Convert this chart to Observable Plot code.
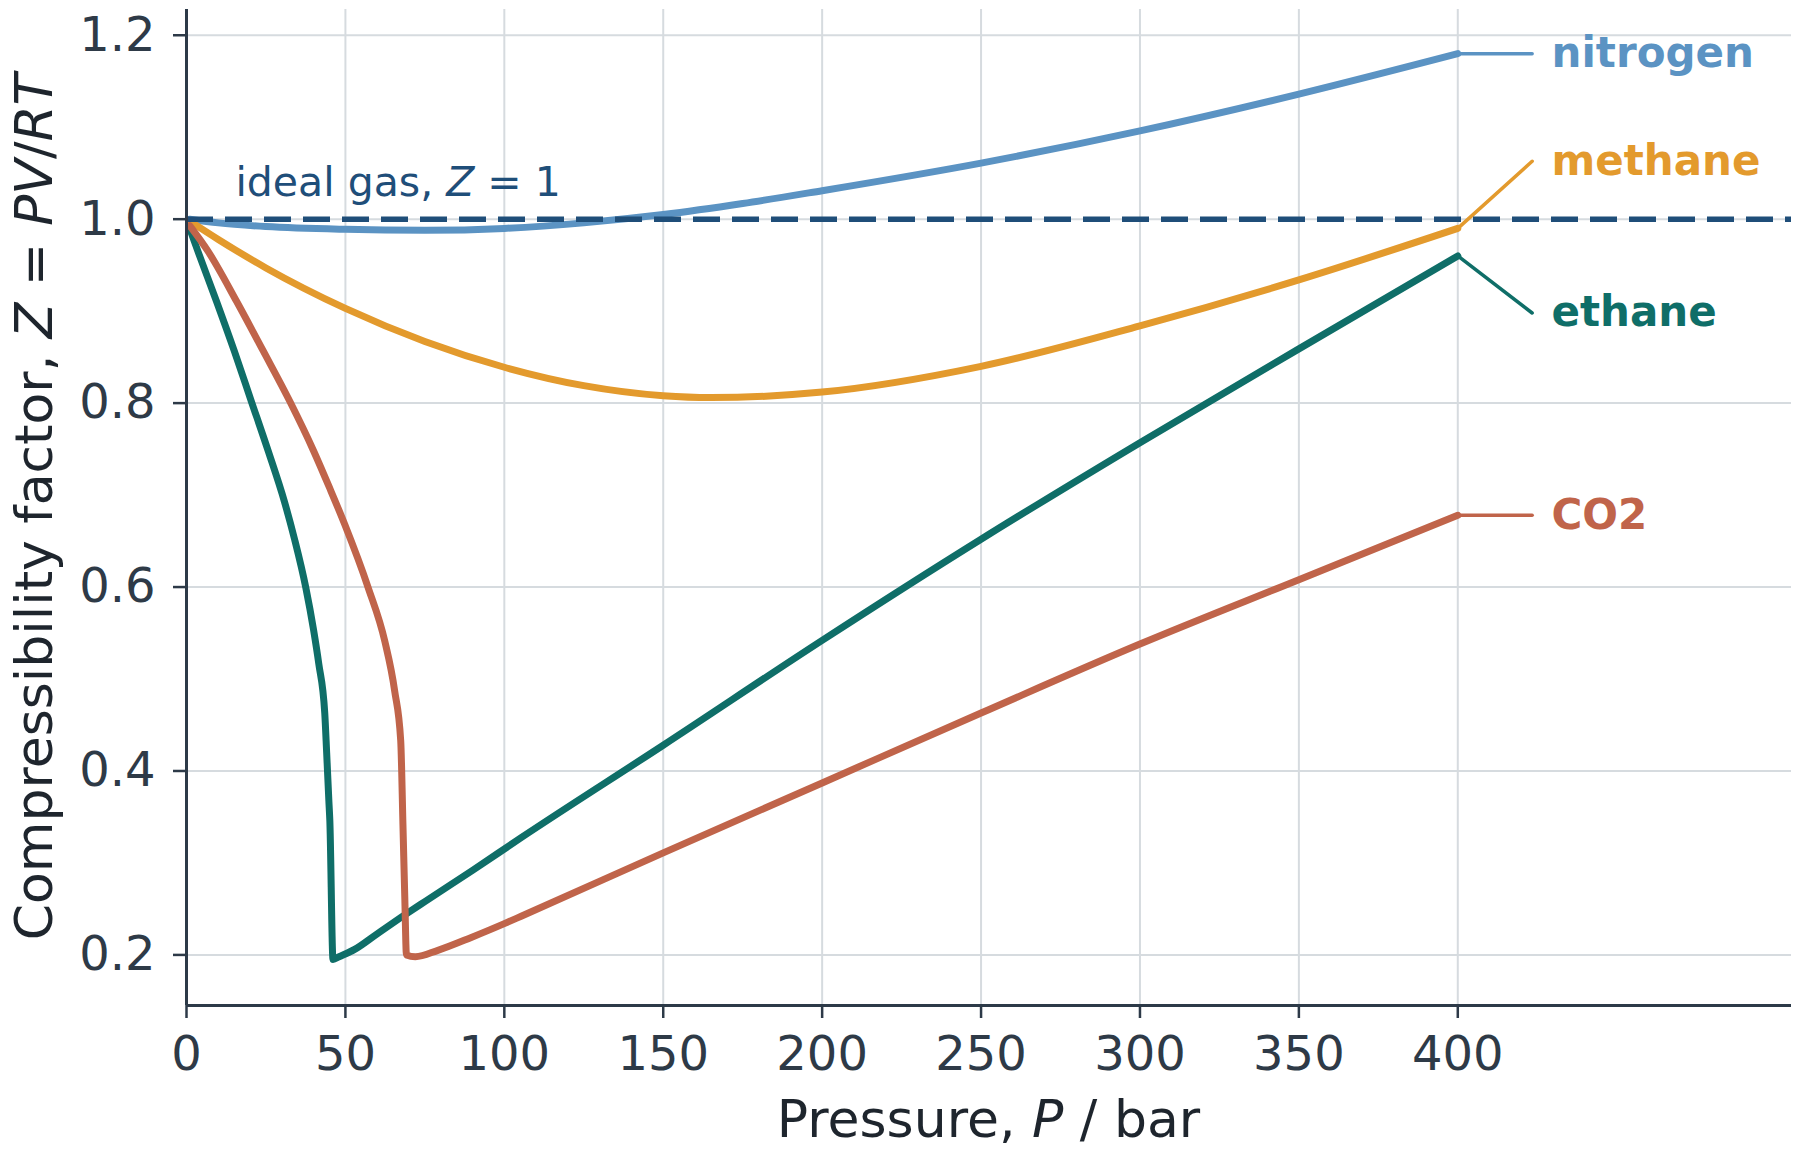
<!DOCTYPE html>
<html>
<head>
<meta charset="utf-8">
<script src="https://cdn.jsdelivr.net/npm/d3@7"></script>
<script src="https://cdn.jsdelivr.net/npm/@observablehq/plot@0.6"></script>
<style>
  html, body { margin: 0; padding: 0; background: #ffffff; }
  #chart { width: 1800px; height: 1158px; }
</style>
</head>
<body>
<div id="chart"></div>
<script>
// ---- data ----
const gases  = ["nitrogen", "methane", "ethane", "CO2"];
const colors = ["#5b93c3", "#e39a2d", "#0f6e68", "#c0644a"];

const nitrogenP = [1, 10, 25, 50, 75, 100, 125, 150, 175, 200, 250, 300, 350, 400];
const nitrogenZ = [1.000, 0.996, 0.992, 0.989, 0.988, 0.990, 0.996, 1.005, 1.017, 1.031, 1.061, 1.096, 1.136, 1.180];

const methaneP = [1, 10, 25, 50, 75, 100, 125, 150, 165, 200, 250, 300, 350, 400];
const methaneZ = [0.998, 0.978, 0.947, 0.903, 0.867, 0.839, 0.819, 0.808, 0.806, 0.812, 0.840, 0.884, 0.934, 0.990];

const ethaneP = [1, 3.6, 9.4, 15, 20.4, 25.7, 30.8, 34, 37.5, 40, 41.6, 43.5, 44.1, 44.8, 45.1, 46.1, 48, 52.9, 60, 67.6, 75, 90, 105.3, 150, 200, 250, 300, 350, 400];
const ethaneZ = [0.990, 0.965, 0.911, 0.857, 0.802, 0.748, 0.693, 0.652, 0.600, 0.553, 0.517, 0.463, 0.420, 0.367, 0.346, 0.195, 0.198, 0.206, 0.223, 0.241, 0.258, 0.292, 0.3275, 0.428, 0.542, 0.652, 0.757, 0.859, 0.960];

const co2P = [1, 6.8, 15.7, 24.1, 32.5, 40, 45, 49.8, 57.1, 62.4, 65.5, 67.4, 68.1, 68.7, 69.2, 72, 79.1, 89.6, 100, 105.3, 150, 200, 250, 300, 350, 400];
const co2Z = [0.993, 0.965, 0.911, 0.857, 0.802, 0.748, 0.708, 0.668, 0.600, 0.541, 0.487, 0.433, 0.342, 0.260, 0.200, 0.198, 0.205, 0.219, 0.234, 0.242, 0.311, 0.387, 0.463, 0.538, 0.608, 0.678];

const seriesP = [nitrogenP, methaneP, ethaneP, co2P];
const seriesZ = [nitrogenZ, methaneZ, ethaneZ, co2Z];

const labelZ     = [1.180, 1.063, 0.898, 0.678];  // label positions
const connectorP = 423.4;                         // end of connector line
const labelP     = 429.5;                         // start of label text

const idealZ = 1;
const idealLabel = "ideal gas, Z = 1";
const idealLabelP = 15.4, idealLabelZ = 1.04;
const xTicks = [0, 50, 100, 150, 200, 250, 300, 350, 400];
const yTicks = [0.2, 0.4, 0.6, 0.8, 1.0, 1.2];
const xDomain = [0, 505];
const yDomain = [0.145, 1.228];

// ---- build marks ----
const axisColor = "#2d3a48";
const gridColor = "#d6dbdf";

const curveMarks = [];
const connectorMarks = [];
const labelMarks = [];
gases.forEach((g, i) => {
  const rows = seriesP[i].map((p, j) => ({P: p, Z: seriesZ[i][j]}));
  curveMarks.push(Plot.line(rows, {x: "P", y: "Z", stroke: colors[i], strokeWidth: 7,
    curve: "monotone-x", strokeLinejoin: "round", strokeLinecap: "round"}));
  const last = rows[rows.length - 1];
  connectorMarks.push(Plot.line([{P: last.P, Z: last.Z}, {P: connectorP, Z: labelZ[i]}],
    {x: "P", y: "Z", stroke: colors[i], strokeWidth: 3.5, strokeLinecap: "round"}));
  labelMarks.push(Plot.text([{P: labelP, Z: labelZ[i], name: g}],
    {x: "P", y: "Z", text: "name", fill: colors[i], fontSize: 42, fontWeight: "bold",
     textAnchor: "start", lineAnchor: "middle"}));
});

const plot = Plot.plot({
  width: 1800,
  height: 1158,
  marginLeft: 186,
  marginRight: 9,
  marginTop: 9,
  marginBottom: 153,
  x: {domain: xDomain},
  y: {domain: yDomain},
  style: {fontFamily: "DejaVu Sans", background: "#ffffff", color: "#2e3a47"},
  marks: [
    Plot.ruleX(xTicks, {stroke: gridColor, strokeWidth: 2}),
    Plot.ruleY(yTicks, {stroke: gridColor, strokeWidth: 2}),
    ...curveMarks,
    ...connectorMarks,
    Plot.ruleY([idealZ], {stroke: "#1f4e79", strokeWidth: 5.5, strokeDasharray: "27,12"}),
    Plot.text([{P: idealLabelP, Z: idealLabelZ, t: idealLabel}],
      {x: "P", y: "Z", text: "t", fill: "#1f4e79", fontSize: 41, textAnchor: "start", lineAnchor: "middle"}),
    ...labelMarks,
    Plot.ruleX([xDomain[0]], {stroke: axisColor, strokeWidth: 3}),
    Plot.ruleY([yDomain[0]], {stroke: axisColor, strokeWidth: 3}),
    Plot.axisX(xTicks, {tickSize: 13, tickPadding: 17, fontSize: 48, label: null,
      stroke: axisColor, strokeWidth: 2.5}),
    Plot.axisY(yTicks, {tickSize: 13, tickPadding: 18, fontSize: 48, label: null,
      tickFormat: d => d.toFixed(1), stroke: axisColor, strokeWidth: 2.5})
  ]
});

document.getElementById("chart").appendChild(plot);

// ---- rich-text labels (italic math letters) ----
const svg = d3.select(plot);
const fontFam = "DejaVu Sans";

function richText(parent, parts) {
  parts.forEach(([t, it]) => {
    const ts = parent.append("tspan").text(t);
    if (it) ts.attr("font-style", "italic");
  });
}

// ideal gas label: restyle the Plot text so that Z is italic
svg.selectAll("text").filter(function () { return this.textContent === idealLabel; })
  .each(function () {
    const t = d3.select(this).style("white-space", "pre");
    t.text(null);
    richText(t, [["ideal gas, ", false], ["Z", true], [" = 1", false]]);
  });

// x axis title
const xt = svg.append("text")
  .attr("x", (186 + 1791) / 2)
  .attr("y", 1137)
  .attr("text-anchor", "middle")
  .attr("font-family", fontFam)
  .attr("font-size", 52)
  .attr("fill", "#1e252d")
  .style("white-space", "pre");
richText(xt, [["Pressure, ", false], ["P", true], [" / bar", false]]);

// y axis title
const yt = svg.append("text")
  .attr("transform", "translate(34," + ((9 + 1005) / 2) + ") rotate(-90)")
  .attr("text-anchor", "middle")
  .attr("dominant-baseline", "central")
  .attr("font-family", fontFam)
  .attr("font-size", 52)
  .attr("fill", "#1e252d")
  .style("white-space", "pre");
richText(yt, [["Compressibility factor, ", false], ["Z", true], [" = ", false], ["PV", true], ["/", false], ["RT", true]]);
</script>
</body>
</html>
